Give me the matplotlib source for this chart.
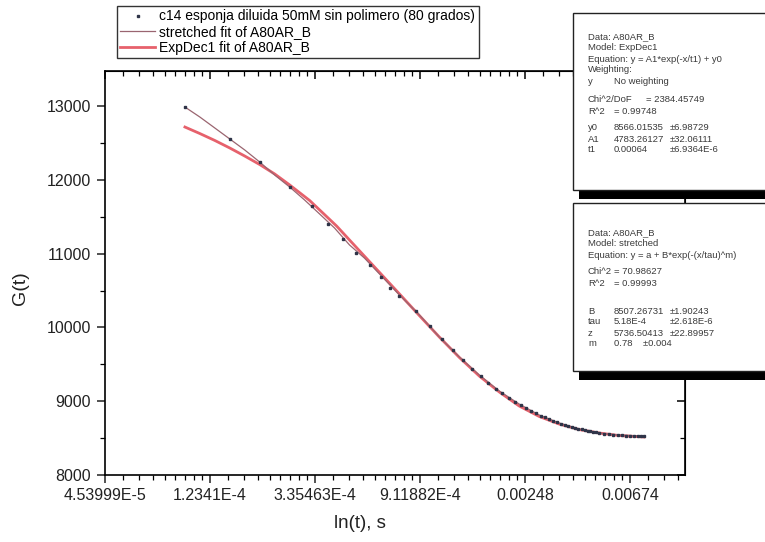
import numpy as np
import matplotlib
matplotlib.use("Agg")
import matplotlib.pyplot as plt
from matplotlib.patches import Rectangle
from matplotlib.ticker import FixedLocator, NullFormatter

plt.rcParams['font.family'] = ['Liberation Sans', 'DejaVu Sans']

# ---- data ----
t_data = [9.72e-5, 1.490e-4, 1.981e-4, 2.636e-4, 3.249e-4, 3.782e-4, 4.36e-4, 4.98e-4,
          5.64e-4, 6.26e-4, 6.88e-4, 7.50e-4, 8.75e-4, 1.00e-3, 1.125e-3, 1.25e-3,
          1.375e-3, 1.50e-3, 1.625e-3, 1.75e-3, 1.875e-3, 2.00e-3, 2.125e-3, 2.25e-3,
          2.375e-3, 2.50e-3, 2.625e-3, 2.75e-3, 2.875e-3, 3.00e-3, 3.125e-3, 3.25e-3,
          3.375e-3, 3.50e-3, 3.625e-3, 3.75e-3, 3.875e-3, 4.00e-3, 4.125e-3, 4.25e-3,
          4.375e-3, 4.50e-3, 4.625e-3, 4.75e-3, 4.875e-3, 5.00e-3, 5.25e-3, 5.50e-3,
          5.75e-3, 6.00e-3, 6.25e-3, 6.50e-3, 6.75e-3, 7.00e-3, 7.25e-3, 7.50e-3, 7.70e-3]
g_data = [12986, 12553, 12241, 11902, 11645, 11401, 11198, 11008,
          10846, 10683, 10534, 10425, 10220, 10020, 9840, 9690,
          9555, 9440, 9340, 9250, 9170, 9110, 9050, 8995,
          8950, 8905, 8870, 8835, 8805, 8780, 8755, 8735,
          8712, 8695, 8680, 8665, 8652, 8640, 8628, 8618,
          8610, 8600, 8594, 8586, 8578, 8572, 8562, 8555,
          8548, 8543, 8538, 8535, 8532, 8530, 8529, 8528, 8527]

t_stretched = [9.72e-5, 1.120e-4, 1.292e-4, 1.490e-4, 1.718e-4, 1.981e-4, 2.285e-4, 2.636e-4,
               3.039e-4, 3.505e-4, 4.04e-4, 4.66e-4, 5.37e-4, 6.20e-4, 7.50e-4, 9.06e-4,
               1.096e-3, 1.327e-3, 1.604e-3, 1.940e-3, 2.345e-3, 2.838e-3, 3.430e-3,
               4.149e-3, 5.017e-3, 6.066e-3, 7.696e-3]
g_stretched = [12986, 12851, 12702, 12553, 12404, 12241, 12065, 11902,
               11726, 11537, 11347, 11117, 10940, 10724, 10439, 10170,
               9870, 9599, 9355, 9138, 8962, 8813, 8705,
               8623, 8569, 8542, 8528]

t_expdec = [9.72e-5, 1.120e-4, 1.292e-4, 1.490e-4, 1.718e-4, 1.981e-4, 2.285e-4, 2.636e-4,
            3.187e-4, 4.12e-4, 5.27e-4, 7.50e-4, 9.06e-4, 1.096e-3, 1.327e-3, 1.604e-3,
            1.940e-3, 2.345e-3, 2.838e-3, 3.430e-3, 4.149e-3, 5.017e-3, 6.066e-3, 7.696e-3]
g_expdec = [12715, 12627, 12533, 12431, 12322, 12207, 12079, 11930,
            11720, 11374, 10995, 10453, 10161, 9870, 9592, 9341,
            9125, 8935, 8793, 8691, 8616, 8569, 8535, 8515]

x_tick_exps = [-10, -9, -8, -7, -6, -5]
x_tick_labels = ["4.53999E-5", "1.2341E-4", "3.35463E-4", "9.11882E-4", "0.00248", "0.00674"]
y_ticks = [8000, 9000, 10000, 11000, 12000, 13000]

legend_labels = ["c14 esponja diluida 50mM sin polimero (80 grados)",
                 "stretched fit of A80AR_B", "ExpDec1 fit of A80AR_B"]

# (label, column-2 text, column-3 text, mid-column text)
box1_lines = [("Data: A80AR_B", None, None, None), ("Model: ExpDec1", None, None, None),
              ("Equation: y = A1*exp(-x/t1) + y0", None, None, None),
              ("Weighting:", None, None, None),
              ("y", "No weighting", None, None),
              ("Chi^2/DoF", None, None, "= 2384.45749"), ("R^2", "= 0.99748", None, None),
              ("y0", "8566.01535", "\u00b16.98729", None),
              ("A1", "4783.26127", "\u00b132.06111", None),
              ("t1", "0.00064", "\u00b16.9364E-6", None)]
box1_rows = [37, 48, 59, 70, 81, 100, 111, 128, 139, 150]
box2_lines = [("Data: A80AR_B", None, None, None), ("Model: stretched", None, None, None),
              ("Equation: y = a + B*exp(-(x/tau)^m)", None, None, None),
              ("Chi^2", "= 70.98627", None, None), ("R^2", "= 0.99993", None, None),
              ("B", "8507.26731", "\u00b11.90243", None),
              ("tau", "5.18E-4", "\u00b12.618E-6", None),
              ("z", "5736.50413", "\u00b122.89957", None),
              ("m", "0.78    \u00b10.004", None, None)]
box2_rows = [233, 244, 255, 272, 283, 311, 322, 333, 344]

W, H = 765, 542
fig = plt.figure(figsize=(W / 100, H / 100), dpi=100)
ax = fig.add_axes([105 / W, 1 - 475 / H, 580 / W, 404 / H])

ax.set_xscale('log', base=np.e)
ax.plot(t_stretched, g_stretched, color='#9a6570', lw=0.9, zorder=3, label=legend_labels[1])
ax.plot(t_expdec, g_expdec, color='#e4505c', lw=2.0, alpha=0.9, zorder=2,
        solid_joinstyle='round', label=legend_labels[2])
ax.plot(t_data, g_data, linestyle='none', marker='s', ms=1.6, color='#2f3448', zorder=4,
        label=legend_labels[0])

ax.set_xlim(np.exp(-10), np.exp(-10 + 580 / 105.0))
ax.set_ylim(8000, 8000 + 404 / 0.0738)

majors = [np.exp(e) for e in x_tick_exps]
ax.xaxis.set_major_locator(FixedLocator(majors))
ax.set_xticklabels(x_tick_labels)
minors = []
for e in x_tick_exps:
    for k in range(1, 9):
        v = np.exp(e) * (1 + k * (np.e - 1) / 9)
        if v < ax.get_xlim()[1]:
            minors.append(v)
ax.xaxis.set_minor_locator(FixedLocator(minors))
ax.xaxis.set_minor_formatter(NullFormatter())
ax.set_yticks(y_ticks)
y_minor = [8500, 9500, 10500, 11500, 12500, 13500]
ax.yaxis.set_minor_locator(FixedLocator(y_minor))

for s in ax.spines.values():
    s.set_linewidth(1.2)
ax.tick_params(axis='both', which='major', direction='out', length=6, width=1.1,
               labelsize=11.5, colors='#222222')
ax.tick_params(axis='both', which='minor', direction='out', length=3.5, width=0.9)
ax.tick_params(axis='y', pad=4)
ax.tick_params(axis='x', pad=3)

axt = ax.secondary_xaxis('top')
axt.xaxis.set_major_locator(FixedLocator(majors))
axt.xaxis.set_minor_locator(FixedLocator(minors))
axt.tick_params(which='major', direction='in', length=6, width=1.1, labeltop=False)
axt.tick_params(which='minor', direction='in', length=3.5, width=0.9)
axt.xaxis.set_major_formatter(NullFormatter())
axt.xaxis.set_minor_formatter(NullFormatter())
axr = ax.secondary_yaxis('right')
axr.set_yticks(y_ticks)
axr.yaxis.set_minor_locator(FixedLocator(y_minor))
axr.tick_params(which='major', direction='in', length=6, width=1.1, labelright=False)
axr.tick_params(which='minor', direction='in', length=3.5, width=0.9)

fig.text(21 / W, 1 - 288 / H, "G(t)", rotation=90, fontsize=14, ha='center', va='center',
         color='#222222')
fig.text(360 / W, 1 - 524 / H, "ln(t), s", fontsize=13.5, ha='center', va='center',
         color='#222222')

h, l = ax.get_legend_handles_labels()
order = [2, 0, 1]
leg = fig.legend([h[i] for i in order], [l[i] for i in order], loc='upper left',
                 bbox_to_anchor=(117 / W, 1 - 6 / H), fontsize=10, frameon=True,
                 fancybox=False, edgecolor='black', borderpad=0.25, labelspacing=0.12,
                 handlelength=2.5, handletextpad=0.3, borderaxespad=0, markerscale=1.2)
leg.get_frame().set_linewidth(1.0)


def draw_box(top, bottom, lines, rows, col2, col3, colm):
    fig.patches.append(Rectangle((579 / W, 1 - (bottom + 9) / H), 200 / W, 9 / H,
                                 transform=fig.transFigure, facecolor='black',
                                 edgecolor='none', zorder=9))
    fig.patches.append(Rectangle((573 / W, 1 - bottom / H), 200 / W, (bottom - top) / H,
                                 transform=fig.transFigure, facecolor='white',
                                 edgecolor='#222222', lw=1.0, zorder=10))
    for (a, b, c, d), y in zip(lines, rows):
        kw = dict(fontsize=6.8, color='#3a3a3a', va='center', ha='left', zorder=11)
        for txt, xp in ((a, 588), (b, col2), (c, col3), (d, colm)):
            if txt:
                fig.text(xp / W, 1 - y / H, txt, **kw)


draw_box(13, 190, box1_lines, box1_rows, 614, 670, 646)
draw_box(203, 371, box2_lines, box2_rows, 614, 670, 646)

fig.savefig("out.png", dpi=100)
